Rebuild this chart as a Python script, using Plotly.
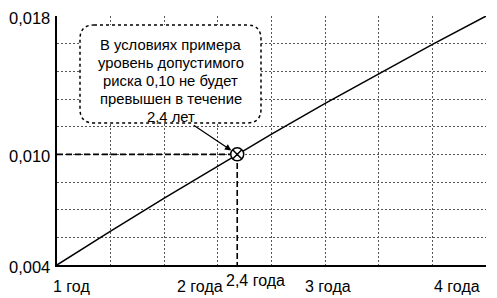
import plotly.graph_objects as go

# ---- data ----
months = [12, 17, 22, 27, 32, 37, 42, 47, 52]          # time, months
risk = [0.0040, 0.00584, 0.00763, 0.00938, 0.01109, 0.01276, 0.01438, 0.01596, 0.0175]
point_x = [28.8]        # 2,4 года in months
point_y = [0.010]
x_tick_vals = [12, 24, 36, 48]
x_tick_text = ["1 год", "2 года", "3 года", "4 года"]
y_tick_vals = [0.004, 0.010, 0.0175]
y_tick_text = ["0,004", "0,010", "0,018"]
point_label = "2,4 года"
callout_lines = ["В условиях примера", "уровень допустимого", "риска 0,10 не будет",
                 "превышен в течение", "2,4 лет"]

FONT = "Liberation Sans, Arial, sans-serif"
W, H = 497, 298
ML, MR, MT, MB = 57, 11, 16, 33
PW, PH = W - ML - MR, H - MT - MB

def px2paper(px, py):
    return (px - ML) / PW, (H - MB - py) / PH

fig = go.Figure()

# reference dashed lines to the point
fig.add_trace(go.Scatter(
    x=[months[0], point_x[0], point_x[0]], y=[point_y[0], point_y[0], risk[0]],
    mode="lines", line=dict(color="black", width=1.6, dash="6px,3px"),
    hoverinfo="skip", showlegend=False))

fig.add_trace(go.Scatter(
    x=months, y=risk, mode="lines",
    line=dict(color="black", width=1.5),
    showlegend=False))

fig.add_trace(go.Scatter(
    x=point_x, y=point_y, mode="markers",
    marker=dict(symbol="circle-x", size=13, color="white",
                line=dict(color="black", width=1.5)),
    showlegend=False))

# callout rounded rectangle (pixel geometry -> paper coords)
x0, y0, x1, y1, r = 80, 25, 261, 123, 14
def P(px, py):
    a, b = px2paper(px, py)
    return f"{a:.5f},{b:.5f}"
path = (f"M {P(x0 + r, y0)} L {P(x1 - r, y0)} Q {P(x1, y0)} {P(x1, y0 + r)} "
        f"L {P(x1, y1 - r)} Q {P(x1, y1)} {P(x1 - r, y1)} "
        f"L {P(x0 + r, y1)} Q {P(x0, y1)} {P(x0, y1 - r)} "
        f"L {P(x0, y0 + r)} Q {P(x0, y0)} {P(x0 + r, y0)} Z")
fig.add_shape(type="path", path=path, xref="paper", yref="paper",
              fillcolor="white", line=dict(color="black", width=1.5, dash="dot"),
              layer="above")

annotations = []
for i, line in enumerate(callout_lines):
    cx, cy = px2paper((x0 + x1) / 2, 44.5 + i * 18.1)
    annotations.append(dict(x=cx, y=cy, xref="paper", yref="paper", text=line,
                            showarrow=False, font=dict(family=FONT, size=14.8, color="black"),
                            xanchor="center", yanchor="middle", align="center"))
# arrow to point
annotations.append(dict(x=point_x[0], y=point_y[0], xref="x", yref="y", text="",
                        showarrow=True, ax=-45, ay=-30, axref="pixel", ayref="pixel",
                        arrowhead=2, arrowsize=1, arrowwidth=1.3, arrowcolor="black",
                        standoff=7))
for v, t in zip(x_tick_vals, x_tick_text):
    annotations.append(dict(x=v, y=0, xref="x", yref="paper", text=t, showarrow=False,
                            xanchor="center", yanchor="top", xshift=14, yshift=-11,
                            font=dict(family=FONT, size=16, color="black")))
annotations.append(dict(x=point_x[0], y=0, xref="x", yref="paper", text=point_label,
                        showarrow=False, xanchor="center", yanchor="top", xshift=18,
                        yshift=-5, font=dict(family=FONT, size=16, color="black")))
for v, t in zip(y_tick_vals, y_tick_text):
    annotations.append(dict(x=0, y=v, xref="paper", yref="y", text=t, showarrow=False,
                            xanchor="right", yanchor="middle", xshift=-5, yshift=-2,
                            font=dict(family=FONT, size=16.5, color="black")))

fig.update_layout(
    width=W, height=H, margin=dict(l=ML, r=MR, t=MT, b=MB),
    paper_bgcolor="white", plot_bgcolor="white",
    showlegend=False, annotations=annotations,
    font=dict(family=FONT, color="black"),
    xaxis=dict(range=[12, 51.99], tickmode="linear", tick0=12, dtick=5,
               showticklabels=False, ticks="", showgrid=True, gridcolor="#555555",
               griddash="2px,2px", gridwidth=1, zeroline=False,
               showline=True, linecolor="black", linewidth=1.6),
    yaxis=dict(range=[0.004, 0.0175000001], tickmode="linear", tick0=0.004, dtick=0.0015,
               showticklabels=False, ticks="", showgrid=True, gridcolor="#555555",
               griddash="2px,2px", gridwidth=1, zeroline=False,
               showline=True, linecolor="black", linewidth=1.6),
)

fig.write_html("out.html")
